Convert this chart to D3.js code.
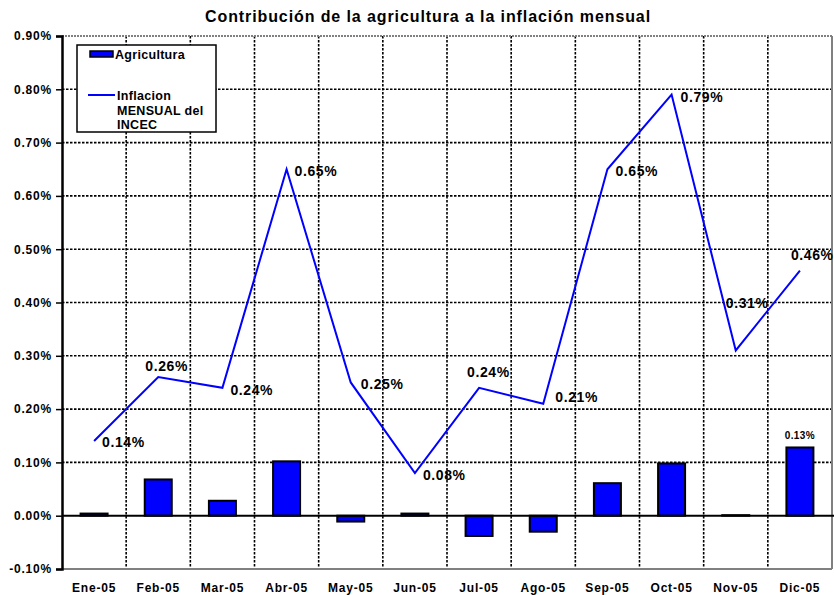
<!DOCTYPE html>
<html>
<head>
<meta charset="utf-8">
<script src="https://cdn.jsdelivr.net/npm/d3@7"></script>
<style>
  html, body { margin: 0; padding: 0; background: #fff; }
  svg { display: block; font-family: "Liberation Sans", Arial, sans-serif; }
</style>
</head>
<body>
<svg id="chart" width="834" height="595"></svg>
<script>
// ---- data ----
const categories = ["Ene-05","Feb-05","Mar-05","Abr-05","May-05","Jun-05","Jul-05","Ago-05","Sep-05","Oct-05","Nov-05","Dic-05"];
const agricultura = [0.004, 0.068, 0.028, 0.102, -0.011, 0.004, -0.038, -0.030, 0.061, 0.098, 0.001, 0.128];
const inflacion = [0.14, 0.26, 0.24, 0.65, 0.25, 0.08, 0.24, 0.21, 0.65, 0.79, 0.31, 0.46];
const yTicks = [-0.10, 0.00, 0.10, 0.20, 0.30, 0.40, 0.50, 0.60, 0.70, 0.80, 0.90];
const title = "Contribución de la agricultura a la inflación mensual";
const legendBar = "Agricultura";
const legendLine = ["Inflacion", "MENSUAL del", "INCEC"];
const labeledBars = [11];

// ---- layout (label placement offsets relative to point) ----
const labelOffsets = [[8,6],[-13,-6],[8,7],[8,7],[10,7],[8,7],[-12,-11],[12,-2],[8,7],[9,7],[-10,-42],[-9,-11]];

const svg = d3.select("#chart");
const L = 62, R = 832, T = 36, B = 569;

const x = d3.scaleBand().domain(categories).range([L, R]).padding(0);
const y = d3.scaleLinear().domain([-0.10, 0.90]).range([B, T]);
const barW = 27;

// title
svg.append("text")
  .attr("x", 428).attr("y", 22)
  .attr("text-anchor", "middle")
  .attr("font-size", 16).attr("font-weight", "bold")
  .attr("letter-spacing", 0.9)
  .text(title);

// horizontal gridlines
svg.append("g").selectAll("line")
  .data(yTicks.filter(v => v !== 0 && v !== -0.10 && v !== 0.90))
  .join("line")
  .attr("x1", L).attr("x2", R)
  .attr("y1", d => y(d)).attr("y2", d => y(d))
  .attr("stroke", "#000").attr("stroke-width", 1.6)
  .attr("stroke-dasharray", "2.5,1.5");

// vertical gridlines at category boundaries
svg.append("g").selectAll("line")
  .data(categories.slice(1))
  .join("line")
  .attr("x1", d => x(d)).attr("x2", d => x(d))
  .attr("y1", T).attr("y2", B)
  .attr("stroke", "#000").attr("stroke-width", 1.6)
  .attr("stroke-dasharray", "2.5,1.5");

// plot border: top dashed gray, right & bottom gray
svg.append("line").attr("x1", L).attr("x2", R).attr("y1", T).attr("y2", T)
  .attr("stroke", "#808080").attr("stroke-width", 2).attr("stroke-dasharray", "2,1");
svg.append("line").attr("x1", R).attr("x2", R).attr("y1", T).attr("y2", B)
  .attr("stroke", "#808080").attr("stroke-width", 2);
svg.append("line").attr("x1", L).attr("x2", R).attr("y1", B).attr("y2", B)
  .attr("stroke", "#808080").attr("stroke-width", 2);

// bars
svg.append("g").selectAll("rect")
  .data(agricultura)
  .join("rect")
  .attr("x", (d, i) => x(categories[i]) + x.bandwidth() / 2 - barW / 2)
  .attr("width", barW)
  .attr("y", d => y(Math.max(0, d)))
  .attr("height", d => Math.abs(y(d) - y(0)))
  .attr("fill", "#0000ff")
  .attr("stroke", "#000").attr("stroke-width", 2);

// zero line
svg.append("line").attr("x1", L).attr("x2", 834).attr("y1", y(0)).attr("y2", y(0))
  .attr("stroke", "#000").attr("stroke-width", 2);

// bar labels
svg.append("g").selectAll("text")
  .data(labeledBars)
  .join("text")
  .attr("x", i => x(categories[i]) + x.bandwidth() / 2)
  .attr("y", i => y(agricultura[i]) - 8)
  .attr("text-anchor", "middle")
  .attr("font-size", 10).attr("font-weight", "bold")
  .attr("letter-spacing", 0.4)
  .text(i => agricultura[i].toFixed(2) + "%");

// line
const line = d3.line()
  .x((d, i) => x(categories[i]) + x.bandwidth() / 2)
  .y(d => y(d));
svg.append("path")
  .datum(inflacion)
  .attr("d", line)
  .attr("fill", "none")
  .attr("stroke", "#0000ff").attr("stroke-width", 2);

// line labels
svg.append("g").selectAll("text")
  .data(inflacion)
  .join("text")
  .attr("x", (d, i) => x(categories[i]) + x.bandwidth() / 2 + labelOffsets[i][0])
  .attr("y", (d, i) => y(d) + labelOffsets[i][1])
  .attr("font-size", 14).attr("font-weight", "bold")
  .attr("letter-spacing", 0.6)
  .text(d => d.toFixed(2) + "%");

// y axis
const yAxis = svg.append("g")
  .attr("transform", `translate(${L},0)`)
  .call(d3.axisLeft(y).tickValues(yTicks).tickSize(6).tickPadding(4)
    .tickFormat(d => d.toFixed(2) + "%"));
yAxis.select(".domain").attr("stroke", "#000").attr("stroke-width", 2.5);
yAxis.selectAll(".tick line").attr("stroke", "#000").attr("stroke-width", 1.5);
yAxis.selectAll(".tick text")
  .attr("font-size", 12).attr("font-weight", "bold")
  .attr("letter-spacing", 0.8)
  .attr("font-family", "Liberation Sans, Arial, sans-serif")
  .attr("fill", "#000");

// x axis labels
const xAxis = svg.append("g")
  .attr("transform", `translate(0,${B})`)
  .call(d3.axisBottom(x).tickSize(0).tickPadding(14));
xAxis.select(".domain").remove();
xAxis.selectAll(".tick text")
  .attr("font-size", 12).attr("font-weight", "bold")
  .attr("letter-spacing", 0.8)
  .attr("font-family", "Liberation Sans, Arial, sans-serif")
  .attr("fill", "#000");

// legend
const lg = svg.append("g");
lg.append("rect").attr("x", 77).attr("y", 45).attr("width", 139).attr("height", 87)
  .attr("fill", "#fff").attr("stroke", "#000").attr("stroke-width", 1.5);
lg.append("rect").attr("x", 90).attr("y", 51).attr("width", 23).attr("height", 6)
  .attr("fill", "#0000ff").attr("stroke", "#000").attr("stroke-width", 1.5);
lg.append("text").attr("x", 115).attr("y", 59)
  .attr("font-size", 12.5).attr("font-weight", "bold").attr("letter-spacing", 0.3).text(legendBar);
lg.append("line").attr("x1", 88).attr("x2", 115).attr("y1", 95).attr("y2", 95)
  .attr("stroke", "#0000ff").attr("stroke-width", 2);
lg.selectAll("text.ll")
  .data(legendLine)
  .join("text")
  .attr("class", "ll")
  .attr("x", 117)
  .attr("y", (d, i) => 100 + i * 14.5)
  .attr("font-size", 12.5).attr("font-weight", "bold").attr("letter-spacing", 0.3)
  .text(d => d);
</script>
</body>
</html>
